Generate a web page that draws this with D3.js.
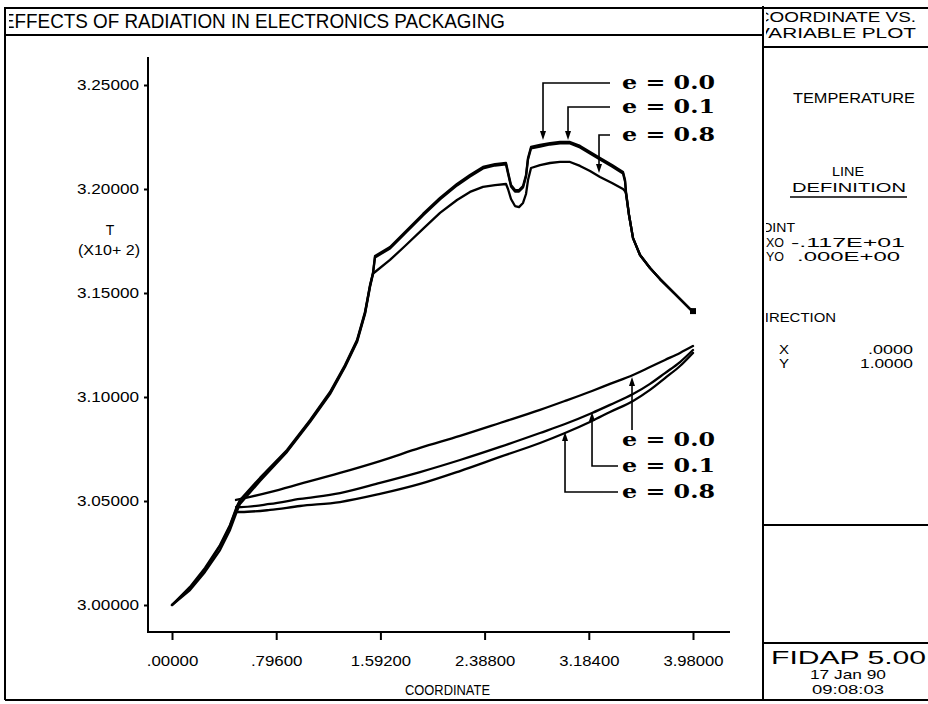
<!DOCTYPE html>
<meta charset="utf-8">
<script src="https://d3js.org/d3.v7.min.js"></script>
<style>
    body { margin: 0; background: #fff; }
    .frame { stroke: #000; stroke-width: 2; fill: none; }
    .txt { font-family: 'Liberation Sans', 'DejaVu Sans', sans-serif; fill: #000; }
    .curve { fill: none; stroke: #000; stroke-width: 2.3; stroke-linejoin: round; stroke-linecap: round; }
    .lead { fill: none; stroke: #000; stroke-width: 1.6; }
    .elabel { font-family: 'DejaVu Serif', 'Liberation Serif', serif; font-weight: bold; font-size: 19px; fill: #000; }
    .tick text { font-family: 'Liberation Sans', 'DejaVu Sans', sans-serif; font-size: 14px; fill: #000; }
    .tick line { stroke: #000; stroke-width: 2; }
</style>

<div id="chart"></div>

<script>
    // coordinate values along the upper branch (shared by the three runs)
    const upperX = [0.0000, 0.1375, 0.2521, 0.3667, 0.4431, 0.4966, 0.5195, 0.6723, 0.8785, 1.0542,
        1.2070, 1.3216, 1.4133, 1.4744, 1.5126, 1.5355, 1.5508, 1.6654, 1.7800, 1.9175,
        2.0474, 2.1772, 2.2765, 2.3759, 2.4675, 2.5516, 2.5668, 2.5898, 2.6203, 2.6509,
        2.6815, 2.7044, 2.7196, 2.7426, 2.8113, 2.8877, 2.9641, 3.0405, 3.1169, 3.1933,
        3.2697, 3.3613, 3.4454, 3.4607, 3.4683, 3.4912, 3.5218, 3.5752, 3.6516, 3.7280,
        3.8426, 3.9572, 3.9800];

    const upperE00 = [3.0000, 3.0087, 3.0178, 3.0288, 3.0385, 3.0476, 3.0505, 3.0611, 3.0745, 3.0889,
        3.1024, 3.1154, 3.1274, 3.1409, 3.1538, 3.1596, 3.1678, 3.1721, 3.1793, 3.1880,
        3.1957, 3.2024, 3.2067, 3.2106, 3.2120, 3.2125, 3.2082, 3.2019, 3.1995, 3.1995,
        3.2014, 3.2067, 3.2149, 3.2202, 3.2212, 3.2221, 3.2226, 3.2226, 3.2207, 3.2178,
        3.2149, 3.2115, 3.2082, 3.2043, 3.1986, 3.1875, 3.1764, 3.1683, 3.1620, 3.1567,
        3.1495, 3.1423, 3.1413];

    const upperE01 = [3.0000, 3.0082, 3.0168, 3.0284, 3.0380, 3.0471, 3.0500, 3.0606, 3.0740, 3.0885,
        3.1019, 3.1149, 3.1269, 3.1404, 3.1534, 3.1596, 3.1671, 3.1714, 3.1786, 3.1873,
        3.1950, 3.2017, 3.2060, 3.2099, 3.2113, 3.2118, 3.2075, 3.2012, 3.1988, 3.1988,
        3.2007, 3.2060, 3.2142, 3.2195, 3.2204, 3.2214, 3.2219, 3.2219, 3.2200, 3.2171,
        3.2142, 3.2108, 3.2075, 3.2036, 3.1981, 3.1875, 3.1764, 3.1683, 3.1620, 3.1567,
        3.1495, 3.1423, 3.1413];

    const upperE08 = [3.0000, 3.0072, 3.0159, 3.0264, 3.0361, 3.0452, 3.0486, 3.0596, 3.0736, 3.0880,
        3.1014, 3.1144, 3.1264, 3.1399, 3.1529, 3.1591, 3.1601, 3.1659, 3.1726, 3.1808,
        3.1885, 3.1947, 3.1986, 3.2010, 3.2019, 3.2024, 3.2000, 3.1952, 3.1918, 3.1913,
        3.1933, 3.1976, 3.2043, 3.2101, 3.2115, 3.2125, 3.2130, 3.2130, 3.2111, 3.2087,
        3.2058, 3.2029, 3.2000, 3.1990, 3.1976, 3.1875, 3.1764, 3.1683, 3.1620, 3.1567,
        3.1495, 3.1423, 3.1413];

    // coordinate values along the lower branch
    const lowerX = [0.4889, 0.5271, 0.7487, 0.9778, 1.2834, 1.5890, 1.8946, 2.2002, 2.5057, 2.8113,
        3.0023, 3.2086, 3.3461, 3.5218, 3.6516, 3.7662, 3.8808, 3.9800];

    const lowerE00 = [3.0505, 3.0510, 3.0543, 3.0582, 3.0635, 3.0692, 3.0755, 3.0813, 3.0875, 3.0938,
        3.0981, 3.1029, 3.1063, 3.1106, 3.1144, 3.1178, 3.1212, 3.1245];
    const lowerE01 = [3.0471, 3.0471, 3.0486, 3.0510, 3.0538, 3.0587, 3.0639, 3.0697, 3.0760, 3.0827,
        3.0870, 3.0923, 3.0962, 3.1014, 3.1063, 3.1115, 3.1168, 3.1226];
    const lowerE08 = [3.0447, 3.0447, 3.0457, 3.0476, 3.0495, 3.0534, 3.0582, 3.0644, 3.0712, 3.0779,
        3.0827, 3.0885, 3.0928, 3.0981, 3.1034, 3.1091, 3.1149, 3.1212];

    const runLabels = ["e = 0.0", "e = 0.1", "e = 0.8"];
    const upperRuns = [upperE00, upperE01, upperE08];
    const lowerRuns = [lowerE00, lowerE01, lowerE08];

    // where the leader arrows touch the curves
    const topTipX = [2.8342, 3.0252, 3.2620];
    const topTipT = [3.2236, 3.2236, 3.2077];
    const bottomTipX = [3.5141, 3.2086, 3.0023];
    const bottomTipT = [3.1096, 3.0928, 3.0832];

    const xTicks = [0, 0.796, 1.592, 2.388, 3.184, 3.98];
    const xTickLabels = [".00000", ".79600", "1.59200", "2.38800", "3.18400", "3.98000"];
    const yTicks = [3.00, 3.05, 3.10, 3.15, 3.20, 3.25];
    const yTickLabels = ["3.00000", "3.05000", "3.10000", "3.15000", "3.20000", "3.25000"];

    const W = 928, H = 704;
    const panelX = 763;

    let svg = d3.select("#chart")
        .append("svg")
        .attr("width", W)
        .attr("height", H);

    let defs = svg.append("defs");
    defs.append("clipPath").attr("id", "clipTitle")
        .append("rect").attr("x", 9).attr("y", 9).attr("width", panelX - 10).attr("height", 26);
    defs.append("clipPath").attr("id", "clipPanel")
        .append("rect").attr("x", panelX + 3).attr("y", 9).attr("width", W - panelX).attr("height", 690);

    // outer frame and panel rules
    svg.append("path").attr("class", "frame")
        .attr("d", "M5,700 V8 H" + W + " M5,700 H" + W);
    svg.append("path").attr("class", "frame")
        .attr("d", "M5,35 H" + panelX);
    svg.append("path").attr("class", "frame")
        .attr("d", "M" + panelX + ",6 V700 M" + panelX + ",47 H" + W +
            " M" + panelX + ",525 H" + W + " M" + panelX + ",643 H" + W);

    // title (first letter runs under the frame, as in the print)
    svg.append("text").attr("class", "txt")
        .attr("clip-path", "url(#clipTitle)")
        .attr("x", 2).attr("y", 28)
        .attr("font-size", 20)
        .attr("textLength", 503).attr("lengthAdjust", "spacingAndGlyphs")
        .text("EFFECTS OF RADIATION IN ELECTRONICS PACKAGING");

    // right hand panel
    let panel = svg.append("g").attr("clip-path", "url(#clipPanel)");
    let panelText = [
        {t: "COORDINATE VS.", x: 756, y: 22, s: 15, len: 160},
        {t: "VARIABLE PLOT", x: 756, y: 38, s: 15, len: 160},
        {t: "TEMPERATURE", x: 793, y: 103, s: 14, len: 122},
        {t: "LINE", x: 832, y: 176, s: 13, len: 32},
        {t: "DEFINITION", x: 792, y: 192, s: 13, len: 114},
        {t: "POINT", x: 752, y: 232, s: 13, len: 43},
        {t: "XO", x: 766, y: 247, s: 12, len: 18},
        {t: "-.117E+01", x: 791, y: 247, s: 12, len: 114},
        {t: "YO", x: 766, y: 261, s: 12, len: 18},
        {t: ".000E+00", x: 797, y: 261, s: 12, len: 103},
        {t: "DIRECTION", x: 754, y: 322, s: 13, len: 82},
        {t: "X", x: 779, y: 354, s: 12, len: 10},
        {t: "Y", x: 779, y: 368, s: 12, len: 10},
        {t: ".0000", x: 868, y: 354, s: 12, len: 45},
        {t: "1.0000", x: 860, y: 368, s: 12, len: 53},
        {t: "FIDAP 5.00", x: 771, y: 664, s: 19, len: 155},
        {t: "17 Jan 90", x: 810, y: 679, s: 13, len: 76},
        {t: "09:08:03", x: 812, y: 694, s: 13, len: 72}
    ];
    panel.selectAll("text")
        .data(panelText)
        .enter()
        .append("text")
        .attr("class", "txt")
        .attr("x", d => d.x)
        .attr("y", d => d.y)
        .attr("font-size", d => d.s)
        .attr("textLength", d => d.len)
        .attr("lengthAdjust", "spacingAndGlyphs")
        .text(d => d.t);
    panel.append("line")
        .attr("x1", 790).attr("x2", 907).attr("y1", 197).attr("y2", 197)
        .attr("stroke", "#000").attr("stroke-width", 1.5);

    // scales
    let x = d3.scaleLinear().domain([0, 3.98]).range([172, 693]);
    let y = d3.scaleLinear().domain([3.0, 3.25]).range([605, 85]);

    const axisLeftX = 148, axisBottomY = 632;

    // axis lines
    svg.append("path").attr("class", "frame")
        .attr("d", "M" + axisLeftX + ",57 V" + axisBottomY + " H730");

    let xAxis = svg.append("g")
        .attr("transform", "translate(0," + axisBottomY + ")")
        .call(d3.axisBottom(x).tickValues(xTicks)
            .tickFormat((d, i) => xTickLabels[i])
            .tickSize(8).tickPadding(16));
    xAxis.select(".domain").remove();
    xAxis.selectAll(".tick text")
        .attr("textLength", (d, i) => xTickLabels[i].length * 8.6)
        .attr("lengthAdjust", "spacingAndGlyphs");

    let yAxis = svg.append("g")
        .attr("transform", "translate(" + axisLeftX + ",0)")
        .call(d3.axisLeft(y).tickValues(yTicks)
            .tickFormat((d, i) => yTickLabels[i])
            .tickSize(4).tickPadding(5));
    yAxis.select(".domain").remove();
    yAxis.selectAll(".tick text")
        .attr("textLength", 62)
        .attr("lengthAdjust", "spacingAndGlyphs");

    svg.append("text").attr("class", "txt")
        .attr("x", 110).attr("y", 235).attr("font-size", 14)
        .attr("text-anchor", "middle").text("T");
    svg.append("text").attr("class", "txt")
        .attr("x", 78).attr("y", 255).attr("font-size", 14)
        .attr("textLength", 62).attr("lengthAdjust", "spacingAndGlyphs")
        .text("(X10+ 2)");
    svg.append("text").attr("class", "txt")
        .attr("x", 405).attr("y", 695).attr("font-size", 14)
        .attr("textLength", 85).attr("lengthAdjust", "spacingAndGlyphs")
        .text("COORDINATE");

    // curves
    let line = d3.line()
        .x(d => x(d[0]))
        .y(d => y(d[1]));
    let smoothLine = d3.line()
        .curve(d3.curveMonotoneX)
        .x(d => x(d[0]))
        .y(d => y(d[1]));

    let curves = svg.append("g");
    upperRuns.forEach(function (run) {
        curves.append("path")
            .attr("class", "curve")
            .attr("d", line(upperX.map((v, i) => [v, run[i]])));
    });
    lowerRuns.forEach(function (run) {
        curves.append("path")
            .attr("class", "curve")
            .attr("d", smoothLine(lowerX.map((v, i) => [v, run[i]])));
    });

    // end marker of the upper branch
    let last = upperX.length - 1;
    curves.append("rect")
        .attr("x", x(upperX[last]) - 3)
        .attr("y", y(upperE00[last]) - 3)
        .attr("width", 6).attr("height", 6)
        .attr("fill", "#000");

    // leaders and labels
    const labelX = 622;
    const topRows = [83, 107, 135];
    const bottomRows = [440, 466, 492];

    function arrowHead(g, px, py, dir) {
        // dir = 1 pointing down, -1 pointing up
        g.append("path")
            .attr("d", "M" + px + "," + py + " L" + (px - 3) + "," + (py - dir * 9) +
                " L" + (px + 3) + "," + (py - dir * 9) + " Z")
            .attr("fill", "#000");
    }

    let notes = svg.append("g");
    runLabels.forEach(function (lab, i) {
        let tx = x(topTipX[i]), ty = y(topTipT[i]);
        notes.append("path").attr("class", "lead")
            .attr("d", "M" + (labelX - 12) + "," + topRows[i] + " H" + tx + " V" + (ty - 4));
        arrowHead(notes, tx, ty, 1);
        notes.append("text").attr("class", "elabel")
            .attr("x", labelX).attr("y", topRows[i] + 6)
            .attr("textLength", 93).attr("lengthAdjust", "spacingAndGlyphs")
            .text(lab);

        let bx = x(bottomTipX[i]), by = y(bottomTipT[i]);
        let d;
        if (i === 0) {
            d = "M" + bx + "," + (bottomRows[i] - 10) + " V" + (by + 4);
        } else {
            d = "M" + (labelX - 4) + "," + bottomRows[i] + " H" + bx + " V" + (by + 4);
        }
        notes.append("path").attr("class", "lead").attr("d", d);
        arrowHead(notes, bx, by, -1);
        notes.append("text").attr("class", "elabel")
            .attr("x", labelX).attr("y", bottomRows[i] + 6)
            .attr("textLength", 93).attr("lengthAdjust", "spacingAndGlyphs")
            .text(lab);
    });
</script>
